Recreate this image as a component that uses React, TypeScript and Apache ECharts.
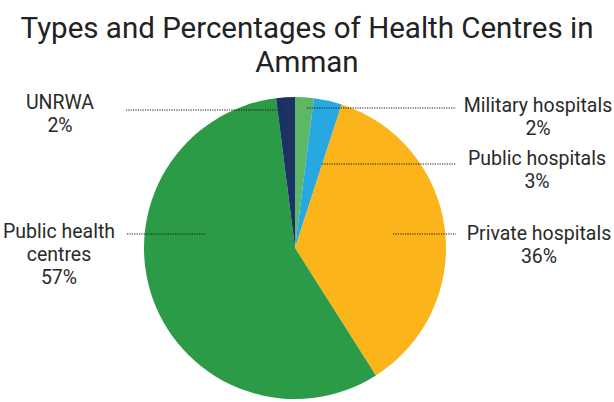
import React, { useEffect, useRef } from "react";
import * as echarts from "echarts";

const titleText = "Types and Percentages of Health Centres in\nAmman";
const categories = ["Military hospitals", "Public hospitals", "Private hospitals", "Public health\ncentres", "UNRWA"];
const percentages = [2, 3, 36, 57, 2];
const colors = ["#5cb866", "#27a8e0", "#fbb41a", "#2b9b47", "#1d3264"];

// label layout (label centre x, middle y, leader line start x, end x, y)
const labelPos = [
  { x: 538, y: 117, x0: 307, x1: 456, ly: 108 },
  { x: 537, y: 170, x0: 322, x1: 456, ly: 164 },
  { x: 539, y: 245, x0: 393, x1: 456, ly: 234 },
  { x: 59, y: 254, x0: 205, x1: 126, ly: 234 },
  { x: 60, y: 114, x0: 283, x1: 126, ly: 110 },
];

export default function App() {
  const ref = useRef<HTMLDivElement>(null);
  useEffect(() => {
    const chart = echarts.init(ref.current!, null, { renderer: "svg" });
    const data = categories.map((c, i) => ({
      name: c,
      value: percentages[i],
      itemStyle: { color: colors[i] },
    }));
    chart.setOption({
      animation: false,
      title: {
        text: titleText,
        left: "center",
        top: 6,
        textStyle: {
          fontFamily: "Roboto",
          fontSize: 29.5,
          fontWeight: "normal",
          color: "#222",
          lineHeight: 34,
        },
      },
      graphic: labelPos.map((p) => ({
        type: "line",
        z: 100,
        silent: true,
        shape: { x1: p.x0, y1: p.ly, x2: p.x1, y2: p.ly },
        style: { stroke: "#1a1a1a", lineWidth: 1.2, lineDash: [1.2, 1.2] },
      })),
      series: [
        {
          type: "pie",
          center: [295, 248],
          radius: 151,
          startAngle: 90,
          clockwise: true,
          silent: true,
          avoidLabelOverlap: false,
          data,
          itemStyle: { borderWidth: 0 },
          label: {
            show: true,
            position: "outside",
            formatter: (p: any) => `${p.name}\n${p.value}%`,
            fontFamily: "Roboto",
            fontSize: 19.5,
            fontWeight: "normal",
            color: "#2a2a2a",
            lineHeight: 23,
            align: "center",
          },
          labelLine: { show: false },
          labelLayout: (params: any) => {
            const p = labelPos[params.dataIndex];
            return {
              x: p.x,
              y: p.y,
              align: "center",
              verticalAlign: "middle",
            };
          },
        },
      ],
    });
    return () => chart.dispose();
  }, []);
  return (
    <div
      ref={ref}
      style={{ position: "absolute", left: 0, top: 0, width: 614, height: 402, background: "#fff" }}
    />
  );
}
